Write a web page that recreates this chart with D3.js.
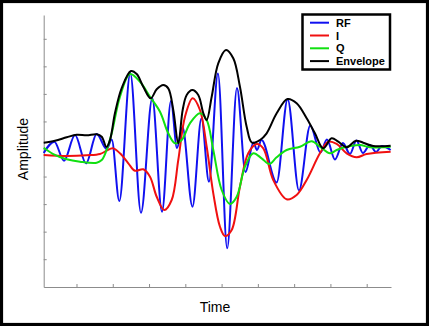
<!DOCTYPE html>
<html><head><meta charset="utf-8">
<script src="https://cdn.jsdelivr.net/npm/d3@7"></script>
<style>html,body{margin:0;padding:0;background:#fff}svg{display:block}</style>
</head><body>
<script>
// ---- data (time in tenths of a tick, amplitude in tenths of a tick) ----
const xTicks = [10,20,30,40,50,60,70,80,90];
const yTicks = [-40,-30,-20,-10,0,10,20,30,40];
const legendLabels = ["RF","I","Q","Envelope"];

const rfT = [0.96,3.89,6.56,9.59,12.62,15.57,18.33,19.71,21.80,24.83,27.78,30.89,33.57,36.05,37.70,39.22,41.97,44.45,46.52,49.00,51.54,54.24,56.58,58.79,59.75,60.99,65.18,68.21,71.33,74.44,77.25,79.04,81.25,83.45,85.38,87.17,88.96,90.89,92.55,94.20,96.60];
const rfA = [-1.45,2.65,-4.25,5.08,-5.19,5.45,0,3.45,-18.88,27.48,-23.12,18.40,-22.76,17.42,0.36,7.99,-20.95,11.14,-11.87,27.41,-36.05,22.14,-8.35,2.36,-0.36,3.27,-12.16,18.08,-15.06,8.53,-1.27,3.45,-3.81,2.18,-1.82,3.09,-1.45,1.45,-1.09,1.09,-0.36];

const iT = [0.96,7.30,12.82,16.48,18.33,19.98,21.99,24.28,26.13,28.41,30.26,32.11,34.20,36.24,38.06,39.91,42.03,44.04,45.89,47.71,49.55,50.93,52.78,55.06,57.35,59.67,61.49,64.24,67.94,70.69,73.45,77.11,79.40,81.72,84.47,87.23,89.98,96.60];
const iA = [-2.18,-2.54,-2.29,-1.82,-0.62,0.25,-1.56,-5.19,-7.88,-7.37,-10.06,-17.32,-22.14,-18.51,-3.99,11.72,18.40,14.16,0.83,-16.08,-28.21,-31.58,-29.40,-13.69,-1.56,1.82,0.25,-11.25,-18.26,-16.70,-11.25,-1.56,2.65,1.82,-1.56,-3.01,-1.82,-0.98];

const qT = [0.96,3.61,7.30,10.97,15.57,16.95,18.13,19.71,21.99,24.75,27.50,30.26,33.02,35.30,37.15,39.00,41.28,44.04,45.89,47.71,50.02,52.31,54.16,56.44,58.73,61.04,63.14,65.18,67.94,71.60,74.83,77.11,79.87,81.72,84.47,88.14,90.89,96.60];
const qA = [0.47,-1.82,-3.74,-4.61,-4.97,-3.99,-0.98,5.70,18.98,27.23,24.43,18.98,13.54,5.70,2.07,3.27,9.33,12.96,10.53,-0.36,-14.88,-19.97,-17.32,-6.43,-1.56,-3.38,-5.45,-3.01,-0.36,0.83,2.80,0.83,-1.56,-0.36,0.83,1.45,0.62,0.83];

const envT = [0.96,4.08,7.30,10.06,12.82,15.57,16.95,18.27,19.24,20.61,22.46,25.02,26.60,28.41,30.45,32.11,33.93,35.30,36.68,38.06,39.27,40.38,41.92,43.57,44.95,45.89,47.27,49.08,51.21,53.22,55.06,56.91,58.37,60.58,62.42,65.18,68.16,70.69,73.45,75.73,78.02,80.34,82.16,84.47,87.03,89.05,91.80,96.60];
const envA = [2.29,3.01,4.25,5.19,4.97,5.34,4.46,0.73,3.27,13.07,22.14,28.31,27.23,22.61,18.40,21.67,23.23,22.03,14.16,2.07,14.16,19.60,21.42,19.60,13.07,10.53,18.98,31.11,35.94,32.92,22.61,8.09,2.29,3.27,5.70,12.96,18.15,16.59,11.14,5.70,0.25,3.88,2.65,0.62,3.01,2.29,1.09,1.20];

const W = 429, H = 326;
const svg = d3.select("body").append("svg").attr("width", W).attr("height", H);
svg.append("rect").attr("width", W).attr("height", H).attr("fill", "#fff");

const x = d3.scaleLinear().domain([0.96, 96.7]).range([43.7, 391]);
const y = d3.scaleLinear().domain([-50.09, 48.64]).range([287, 15]);

// axes
const gx = svg.append("g").attr("transform", "translate(0,287)")
  .call(d3.axisBottom(x).tickValues(xTicks).tickSize(-3).tickSizeOuter(0).tickFormat(""));
const gy = svg.append("g").attr("transform", "translate(43.7,0)")
  .call(d3.axisLeft(y).tickValues(yTicks).tickSize(-3).tickSizeOuter(0).tickFormat(""));
[gx, gy].forEach(g => { g.selectAll("path,line").attr("stroke", "#8c8c8c").attr("stroke-width", 1); });

const series = [
  {t: rfT, a: rfA, color: "#1010f0", curve: d3.curveMonotoneX},
  {t: iT, a: iA, color: "#f01010", curve: d3.curveCatmullRom},
  {t: qT, a: qA, color: "#10e010", curve: d3.curveCatmullRom},
  {t: envT, a: envA, color: "#000000", curve: d3.curveCatmullRom}
];
series.forEach(s => {
  const pts = s.t.map((t, i) => [t, s.a[i]]);
  svg.append("path").datum(pts)
    .attr("fill", "none").attr("stroke", s.color).attr("stroke-width", 2)
    .attr("stroke-linejoin", "round")
    .attr("d", d3.line().x(d => x(d[0])).y(d => y(d[1])).curve(s.curve));
});

// axis titles
svg.append("text").attr("x", 215).attr("y", 312).attr("text-anchor", "middle")
  .attr("font-family", "Liberation Sans, Arial, sans-serif").attr("font-size", 14).text("Time");
svg.append("text").attr("transform", "translate(28,149) rotate(-90)").attr("text-anchor", "middle")
  .attr("font-family", "Liberation Sans, Arial, sans-serif").attr("font-size", 14).text("Amplitude");

// legend
const lg = svg.append("g");
lg.append("rect").attr("x", 302.5).attr("y", 14.5).attr("width", 87.5).attr("height", 55)
  .attr("fill", "#fff").attr("stroke", "#000").attr("stroke-width", 2.5);
series.forEach((s, i) => {
  const cy = 22.7 + i * 12.8;
  lg.append("line").attr("x1", 310).attr("x2", 329).attr("y1", cy).attr("y2", cy)
    .attr("stroke", s.color).attr("stroke-width", 2);
  lg.append("text").attr("x", 336).attr("y", cy + 4).attr("font-family", "Liberation Sans, Arial, sans-serif")
    .attr("font-size", 11).attr("font-weight", "bold").text(legendLabels[i]);
});

// outer frame
svg.append("rect").attr("x", 1.5).attr("y", 1.5).attr("width", W - 3).attr("height", H - 3)
  .attr("fill", "none").attr("stroke", "#000").attr("stroke-width", 3.2);
</script>
</body></html>
